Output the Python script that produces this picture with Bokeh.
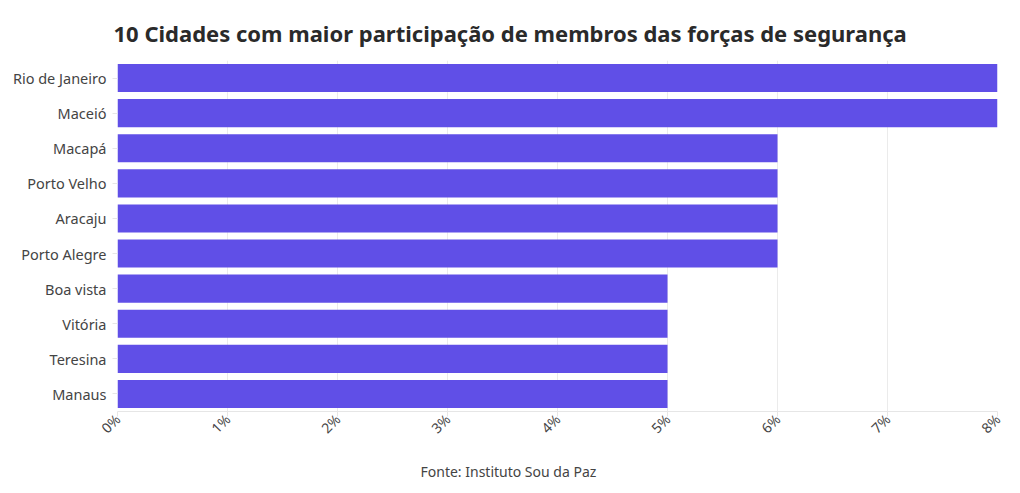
import math
from bokeh.plotting import figure
from bokeh.models import FactorRange, Range1d, FixedTicker, PrintfTickFormatter, Title, ColumnDataSource
from bokeh.embed import file_html
from bokeh.resources import INLINE

cities = ["Rio de Janeiro", "Maceió", "Macapá", "Porto Velho", "Aracaju",
          "Porto Alegre", "Boa vista", "Vitória", "Teresina", "Manaus"]
values = [8, 8, 6, 6, 6, 6, 5, 5, 5, 5]
x_ticks = [0, 1, 2, 3, 4, 5, 6, 7, 8]
title_text = "10 Cidades com maior participação de membros das forças de segurança"
source_text = "Fonte: Instituto Sou da Paz"

FONT = "Noto Sans"
TXT = "#444444"

src = ColumnDataSource(dict(city=cities, val=values))

p = figure(width=1012, height=493, output_backend="svg", toolbar_location=None,
           y_range=FactorRange(factors=list(reversed(cities)), range_padding=0),
           x_range=Range1d(0, 8),
           min_border_left=117, min_border_right=15, min_border_bottom=10,
           min_border_top=60)

p.hbar(y="city", right="val", left=0, height=0.8, source=src,
       fill_color="#604fe7", line_color=None)

p.title.text = title_text
p.title.text_font = FONT
p.title.text_font_size = "22px"
p.title.text_font_style = "bold"
p.title.text_color = "#2a2a2a"
p.title.align = "left"
p.title.vertical_align = "bottom"
p.title.offset = -4
p.title.standoff = 25

p.outline_line_color = None
p.ygrid.grid_line_color = None
p.xgrid.grid_line_color = "#ebebeb"
p.xgrid.ticker = FixedTicker(ticks=x_ticks)

xa = p.xaxis[0]
xa.ticker = FixedTicker(ticks=x_ticks)
xa.formatter = PrintfTickFormatter(format="%d%%")
xa.major_label_orientation = math.pi / 4
xa.axis_line_color = "#e6e6e6"
xa.major_tick_line_color = "#e6e6e6"
xa.major_tick_out = 5
xa.major_tick_in = 0
xa.minor_tick_line_color = None
xa.major_label_text_font = FONT
xa.major_label_text_font_size = "14px"
xa.major_label_text_color = TXT
xa.major_label_standoff = 0

ya = p.yaxis[0]
ya.axis_line_color = None
ya.major_tick_line_color = "#e6e6e6"
ya.major_tick_out = 5
ya.major_tick_in = 0
ya.major_label_text_font = FONT
ya.major_label_text_font_size = "14.5px"
ya.major_label_text_color = TXT
ya.major_label_standoff = 6

foot = Title(text=source_text, align="left", offset=303,
             text_font=FONT, text_font_size="14px", text_font_style="normal",
             text_color=TXT, standoff=26)
p.add_layout(foot, "below")

open("out.html", "w").write(file_html(p, INLINE))
